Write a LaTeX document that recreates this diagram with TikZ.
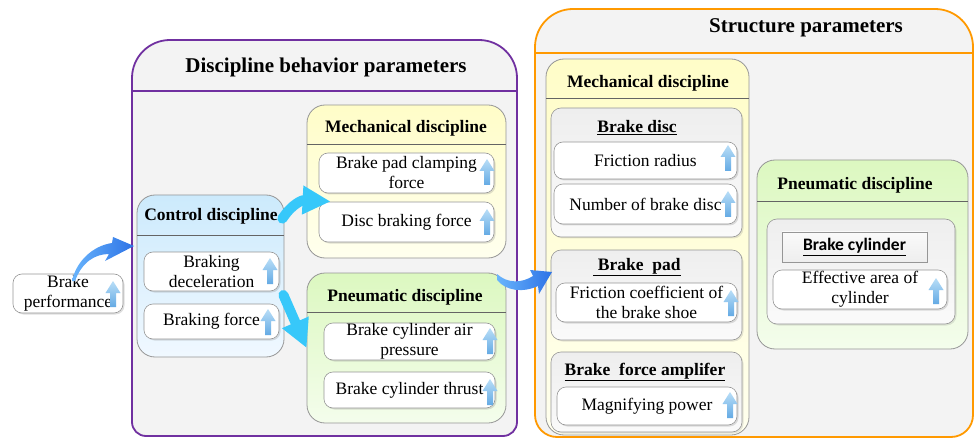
\documentclass[tikz,border=0pt]{standalone}
\usepackage{fontspec}
\setmainfont{Liberation Serif}
\newfontfamily\cylfont{Carlito}
\usetikzlibrary{arrows.meta,shadows}

\definecolor{framepurple}{RGB}{112,48,160}
\definecolor{frameorange}{RGB}{255,153,0}
\definecolor{framegray}{RGB}{243,243,243}
\definecolor{boxline}{RGB}{150,150,150}
\definecolor{headgray}{RGB}{100,100,100}
\definecolor{ctrlblue}{RGB}{204,234,252}
\definecolor{ctrllight}{RGB}{240,248,255}
\definecolor{mechyellow}{RGB}{255,253,200}
\definecolor{mechlight}{RGB}{255,255,238}
\definecolor{pneugreen}{RGB}{220,248,192}
\definecolor{pneulight}{RGB}{244,253,236}
\definecolor{groupgray}{RGB}{238,238,238}
\definecolor{grouplight}{RGB}{250,250,250}
\definecolor{flowcyan}{RGB}{55,200,250}
\definecolor{flowblue}{RGB}{45,115,230}
\definecolor{flowlight}{RGB}{105,180,252}
\definecolor{uptop}{RGB}{185,222,247}
\definecolor{upbot}{RGB}{100,170,228}

\tikzset{
  headtxt/.style={font=\fontsize{17.5}{20}\selectfont\bfseries, inner sep=0pt},
  frametitle/.style={font=\fontsize{21}{24}\selectfont\bfseries, inner sep=0pt},
  itembox/.style={draw=boxline, fill=white, rounded corners=9pt, line width=0.6pt,
    inner sep=0pt, align=center, font=\fontsize{17.5}{20}\selectfont,
    drop shadow={opacity=0.25, shadow xshift=1.5pt, shadow yshift=-1.5pt}},
  panel/.style={draw=boxline, rounded corners=18pt, line width=0.8pt, inner sep=0pt},
  grpbox/.style={draw=boxline, rounded corners=10pt, line width=0.6pt, inner sep=0pt,
    top color=groupgray, bottom color=grouplight,
    drop shadow={opacity=0.2, shadow xshift=1.5pt, shadow yshift=-1.5pt}},
  cylbox/.style={draw=boxline, top color=grouplight, bottom color=groupgray, line width=0.6pt, inner sep=0pt,
    font=\cylfont\fontsize{17.5}{20}\selectfont\bfseries},
  headline/.style={draw=headgray, line width=0.8pt},
  cyanflow/.style={draw=flowcyan, line width=10pt, line cap=round,
    -{Triangle[length=28pt,width=27pt]}},
  blueflow/.style={left color=flowlight, right color=flowblue},
  uparrow/.pic={\shade[top color=uptop, bottom color=upbot] (-3,13) -- (-3,-1)
    -- (-7.5,-1) -- (0,-13) -- (7.5,-1) -- (3,-1) -- (3,13) -- cycle;}
}

\begin{document}
\begin{tikzpicture}[x=1pt,y=-1pt]
\useasboundingbox (0,0) rectangle (976,438);

% behaviour frame
\filldraw[draw=framepurple, line width=1.8pt, fill=framegray] (132,250) -- (132,78)
  arc[start angle=180,end angle=90,radius=38pt] -- (479,40)
  arc[start angle=90,end angle=0,radius=38pt] -- (517,422)
  arc[start angle=0,end angle=-90,radius=14pt] -- (146,436)
  arc[start angle=270,end angle=180,radius=14pt] -- cycle;
\draw[framepurple, line width=1.5pt] (132,91) -- (517,91);
\node[frametitle] (behav) at (326,67) {Discipline behavior parameters};

% structure frame
\filldraw[draw=frameorange, line width=1.8pt, fill=framegray] (535,250) -- (535,47)
  arc[start angle=180,end angle=90,radius=38pt] -- (935,9)
  arc[start angle=90,end angle=0,radius=38pt] -- (973,415)
  arc[start angle=0,end angle=-90,radius=22pt] -- (557,437)
  arc[start angle=270,end angle=180,radius=22pt] -- cycle;
\draw[frameorange, line width=1.5pt] (535,53) -- (973,53);
\node[frametitle] (struct) at (806,28) {Structure parameters};

\node[itembox, minimum width=110pt, minimum height=39pt] (perf) at (68,293.5) {Brake\\performance};

% control
\node[panel, top color=ctrlblue, bottom color=ctrllight, minimum width=147pt, minimum height=162pt] (ctrl) at (210.5,276) {};
\draw[headline] (137,235) -- (284,235);
\node[headtxt] (ctrlt) at (211,216) {Control discipline};
\node[itembox, minimum width=135pt, minimum height=39pt] (decel) at (211.5,271.5) {Braking\\deceleration};
\node[itembox, minimum width=135pt, minimum height=35pt] (bforce) at (211.5,321.5) {Braking force};

% mechanical, left
\node[panel, top color=mechyellow, bottom color=mechlight, minimum width=199pt, minimum height=153pt] (mechl) at (406.5,181.5) {};
\draw[headline] (307,144) -- (506,144);
\node[headtxt] (mechlt) at (406,128) {Mechanical discipline};
\node[itembox, minimum width=175pt, minimum height=40pt] (clamp) at (406.5,173) {Brake pad clamping\\force};
\node[itembox, minimum width=175pt, minimum height=40pt] (discf) at (406.5,222) {Disc braking force};

% pneumatic, left
\node[panel, top color=pneugreen, bottom color=pneulight, minimum width=199pt, minimum height=150pt] (pneul) at (406.5,348) {};
\draw[headline] (307,312) -- (506,312);
\node[headtxt] (pneult) at (405,297) {Pneumatic discipline};
\node[itembox, minimum width=171pt, minimum height=37pt] (airp) at (409.5,341.5) {Brake cylinder air\\pressure};
\node[itembox, minimum width=171pt, minimum height=36pt] (thrust) at (409.5,390) {Brake cylinder thrust};

% mechanical, right
\node[panel, top color=mechyellow, bottom color=mechlight, minimum width=203pt, minimum height=376pt] (mechr) at (647.5,247) {};
\draw[headline] (546,98) -- (749,98);
\node[headtxt] (mechrt) at (648,83) {Mechanical discipline};
\node[grpbox, minimum width=191pt, minimum height=129pt] (disc) at (646.5,172.5) {};
\node[headtxt] (disct) at (637,128) {\underline{Brake disc}};
\node[itembox, minimum width=183pt, minimum height=37pt] (fricr) at (645.5,160.5) {Friction radius};
\node[itembox, minimum width=183pt, minimum height=40pt] (numd) at (645.5,204) {Number of brake disc};
\node[grpbox, minimum width=191pt, minimum height=90pt] (pad) at (646.5,295) {};
\node[headtxt] (padt) at (637,267) {\underline{\ Brake\ \ pad}};
\node[itembox, minimum width=181pt, minimum height=39pt] (fcoef) at (646.5,302.5) {Friction coefficient of\\the brake shoe};
\node[grpbox, minimum width=191pt, minimum height=80pt] (amp) at (646.5,392) {};
\node[headtxt] (ampt) at (645,372) {\underline{Brake\ \ force amplifer}};
\node[itembox, minimum width=180pt, minimum height=38pt] (magp) at (647,406) {Magnifying power};

% pneumatic, right
\node[panel, top color=pneugreen, bottom color=pneulight, minimum width=211pt, minimum height=189pt] (pneur) at (862.5,254.5) {};
\draw[headline] (757,201) -- (968,201);
\node[headtxt] (pneurt) at (855,185) {Pneumatic discipline};
\node[grpbox, minimum width=188pt, minimum height=105pt] (cyl) at (861,271.5) {};
\node[cylbox, minimum width=145pt, minimum height=30pt] (cylt) at (854.5,247) {\underline{Brake cylinder}};
\node[itembox, minimum width=174pt, minimum height=39pt] (effa) at (860,289.5) {Effective area of\\cylinder};

% up arrows
\foreach \ax/\ay in {113/294, 270/271, 268/322, 487/172, 487/222, 490/341, 490/392,
  728/158, 728/204, 731/303, 730/405, 936/291}
  \pic at (\ax,\ay) {uparrow};

% flows
\coordinate (perftail) at (72,281);
\coordinate (ctrltip) at (134,246);
\shade[blueflow] (perftail) .. controls (76,262) and (92,246) .. (112,243) -- (113,237)
  -- (ctrltip) -- (105,261) -- (109,254) .. controls (95,254) and (82,262) .. (75,281) -- cycle;

\draw[cyanflow] ([xshift=-2pt,yshift=-24pt]ctrl.north east) .. controls (292,204) and (302,200) .. ([xshift=24pt,yshift=-20pt]mechl.west);
\draw[cyanflow] ([xshift=-1pt,yshift=-19pt]ctrl.east) -- (pneul.west);

\coordinate (pneutail) at (497,274);
\coordinate (padtip) at (552,272);
\shade[blueflow] (pneutail) .. controls (508,284) and (522,283) .. (533,276) -- (530,270)
  -- (padtip) -- (539,294) -- (538,286) .. controls (523,293) and (506,291) .. (497,280) -- cycle;

\end{tikzpicture}
\end{document}
